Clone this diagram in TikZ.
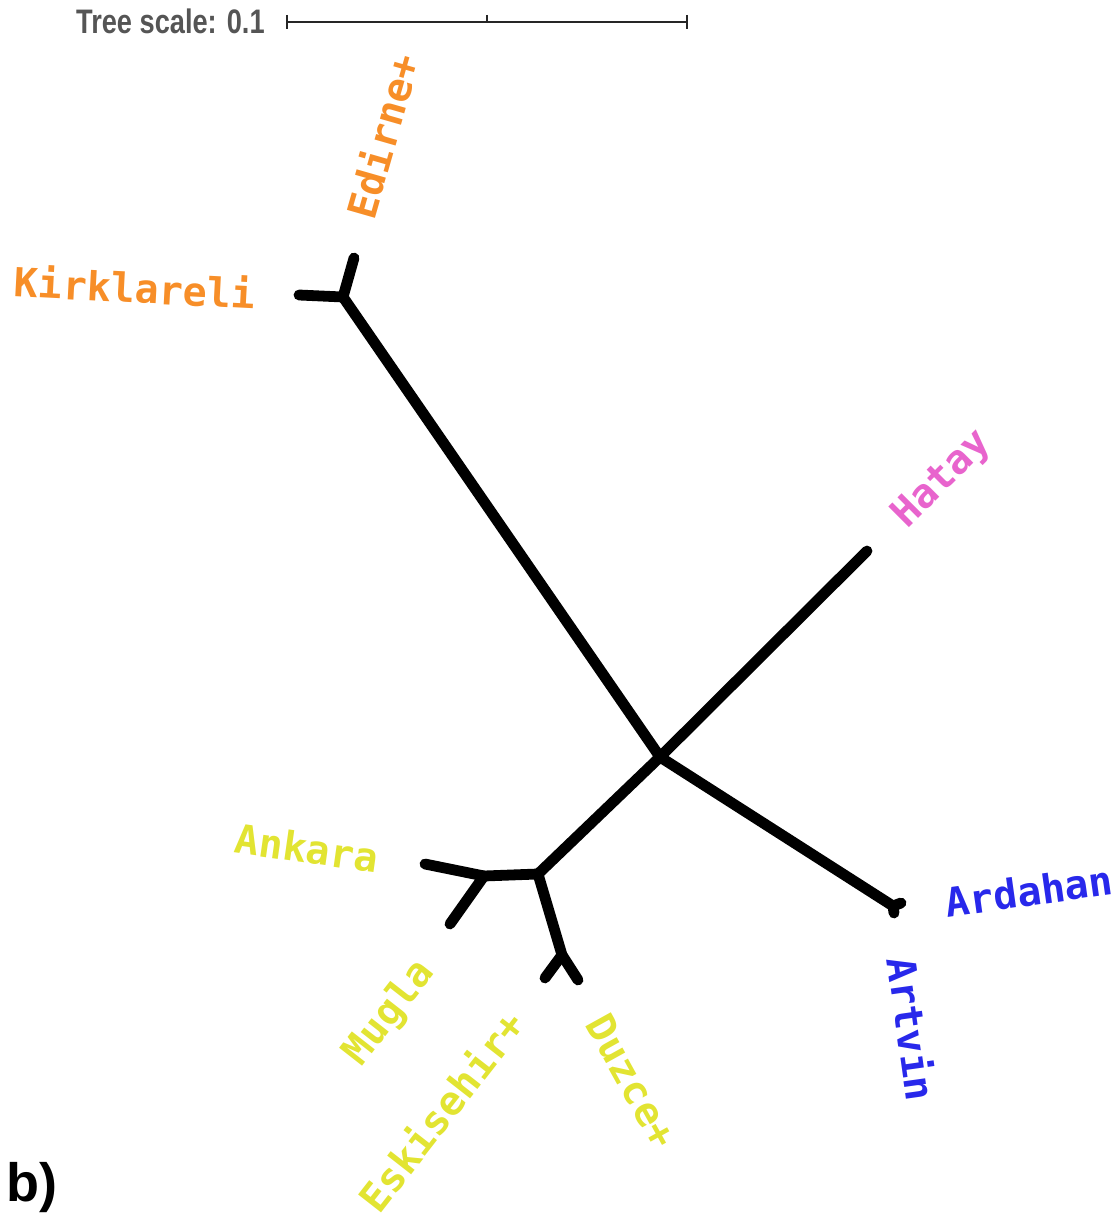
\documentclass[tikz,border=0pt]{standalone}
\usepackage{fontspec}
\setmainfont{Liberation Sans}
\setmonofont{DejaVu Sans Mono}
\usepackage{tikz}

\definecolor{cladeorange}{RGB}{247,142,40}
\definecolor{cladeyellow}{RGB}{226,228,50}
\definecolor{cladepink}{RGB}{232,100,205}
\definecolor{cladeblue}{RGB}{40,40,235}
\definecolor{scalegray}{RGB}{85,85,85}

\begin{document}
\begin{tikzpicture}[
x=0.5pt,y=-0.5pt,
leaf/.style={font=\fontsize{20}{24}\selectfont\ttfamily\bfseries,inner sep=0pt},
branch/.style={line width=5.4pt,line cap=round,line join=round},
scalebar/.style={line width=1.4pt,black!85} ]

\useasboundingbox (0,0) rectangle (1118,1220);

% scale bar
\coordinate (s0) at (287,22);
\coordinate (s1) at (487,22);
\coordinate (s2) at (687,22);

\node[font=\fontsize{17}{19}\selectfont\bfseries,text=scalegray,xscale=0.8,anchor=east,inner sep=0pt](scale) at (265,21) {Tree scale: 0.1};

\draw[scalebar] (s0) -- (s2);
\draw[scalebar] ([yshift=3.5pt]s0) -- ([yshift=-3.5pt]s0);
\draw[scalebar] ([yshift=3.5pt]s1) -- (s1);
\draw[scalebar] ([yshift=3.5pt]s2) -- ([yshift=-3.5pt]s2);

% inner nodes
\coordinate (root) at (660,757);
\coordinate (nw) at (343,297);
\coordinate (sw) at (538,874);
\coordinate (swl) at (484,876);
\coordinate (sws) at (562,955);
\coordinate (se) at (893,906);

% tips
\coordinate (kir) at (299,295);
\coordinate (edi) at (354,258);
\coordinate (hat) at (867,551);
\coordinate (ard) at (901,903);
\coordinate (art) at (894,913);
\coordinate (ank) at (425,864);
\coordinate (mug) at (450,924);
\coordinate (esk) at (545,978);
\coordinate (duz) at (578,980);

\draw[branch] (root) -- (nw);
\draw[branch] (nw) -- (kir);
\draw[branch] (nw) -- (edi);
\draw[branch] (root) -- (hat);
\draw[branch] (root) -- (se);
\draw[branch] (se) -- (ard);
\draw[branch] (se) -- (art);
\draw[branch] (root) -- (sw);
\draw[branch] (sw) -- (swl);
\draw[branch] (swl) -- (ank);
\draw[branch] (swl) -- (mug);
\draw[branch] (sw) -- (sws);
\draw[branch] (sws) -- (esk);
\draw[branch] (sws) -- (duz);

% labels
\node[leaf,text=cladeorange,rotate=74](Edirne) at (382,136) {Edirne+};

\node[leaf,text=cladeorange,rotate=-3](Kirklareli) at (135,287) {Kirklareli};

\node[leaf,text=cladepink,rotate=45](Hatay) at (943,480) {Hatay};

\node[leaf,text=cladeblue,rotate=8](Ardahan) at (1029,891) {Ardahan};

\node[leaf,text=cladeblue,rotate=-82](Artvin) at (913,1029) {Artvin};

\node[leaf,text=cladeyellow,rotate=-8](Ankara) at (307,848) {Ankara};

\node[leaf,text=cladeyellow,rotate=52](Mugla) at (390,1013) {Mugla};

\node[leaf,text=cladeyellow,rotate=52](Eskisehir) at (441,1111) {Eskisehir+};

\node[leaf,text=cladeyellow,rotate=-61](Duzce) at (632,1081) {Duzce+};

\node[font=\fontsize{27}{30}\selectfont\bfseries,inner sep=0pt](panel) at (32,1188) {b)};
\end{tikzpicture}
\end{document}
